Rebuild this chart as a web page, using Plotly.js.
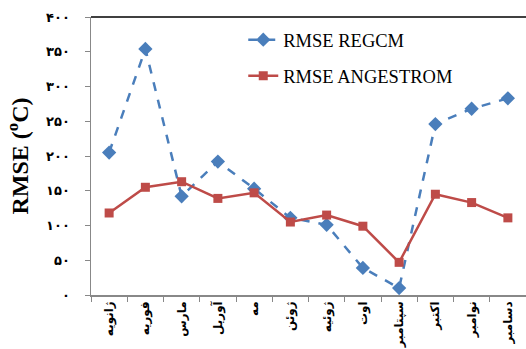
<!DOCTYPE html>
<html><head><meta charset="utf-8">
<script src="https://cdn.plot.ly/plotly-3.0.1.min.js"></script>
<style>body{margin:0;background:#fff}#chart{width:526px;height:349px}</style>
</head><body><div id="chart"></div>
<script>
const months = ["ژانویه","فوریه","مارس","آوریل","مه","ژوئن","ژوئیه","اوت","سپتامبر","اکتبر","نوامبر","دسامبر"];
const rmseRegcm = [205, 354, 142, 192, 153, 111, 101, 39, 10, 246, 268, 283];
const rmseAngstrom = [118, 155, 163, 139, 147, 105, 115, 99, 47, 145, 133, 111];
const yTickVals = [0, 50, 100, 150, 200, 250, 300, 350, 400];
const yTickText = ["۰","۵۰","۱۰۰","۱۵۰","۲۰۰","۲۵۰","۳۰۰","۳۵۰","۴۰۰"];

const traces = [
  {x: months, y: rmseRegcm, name: "RMSE REGCM", type: "scatter", mode: "lines+markers",
   legendgroup: "a",
   line: {color: "#4A7EBB", width: 2.5, dash: "dash"},
   marker: {symbol: "diamond", size: 11, color: "#4A7EBB"}},
  {x: months, y: rmseAngstrom, name: "RMSE ANGESTROM", type: "scatter", mode: "lines+markers",
   legendgroup: "b",
   line: {color: "#BE4B48", width: 2.5},
   marker: {symbol: "square", size: 9, color: "#BE4B48"}}
];

const layout = {
  width: 526, height: 349,
  margin: {l: 91, r: 0, t: 17, b: 54},
  paper_bgcolor: "#fff", plot_bgcolor: "#fff",
  showlegend: true,
  legend: {x: 0.35, y: 0.985, xanchor: "left", yanchor: "top",
    font: {family: "Liberation Serif, Times New Roman, serif", size: 18.5, color: "#000"},
    traceorder: "grouped", tracegroupgap: 9, bgcolor: "rgba(0,0,0,0)"},
  xaxis: {type: "category", range: [-0.5, 11.5], tickangle: -90,
    showline: true, linecolor: "#888", linewidth: 1.5,
    ticks: "outside", ticklen: 5, tickcolor: "#888", tickson: "boundaries",
    showgrid: false, zeroline: false,
    tickfont: {family: "DejaVu Sans, sans-serif", size: 12, color: "#000", weight: "bold"}},
  yaxis: {range: [0, 400], tickvals: yTickVals, ticktext: yTickText,
    showline: true, linecolor: "#888", linewidth: 1.5,
    ticks: "outside", ticklen: 5, tickcolor: "#888", ticklabelstandoff: 12,
    showgrid: false, zeroline: false,
    tickfont: {family: "DejaVu Sans, sans-serif", size: 13, color: "#000", weight: "bold"},
    title: {text: "RMSE (<sup>o</sup>C)", standoff: 10,
      font: {family: "Liberation Serif, Times New Roman, serif", size: 24, color: "#000", weight: "bold"}}},
  shapes: [{type: "line", xref: "paper", yref: "paper", x0: 0, x1: 1, y0: 1, y1: 1,
    line: {color: "#000", width: 1.5}}]
};
Plotly.newPlot("chart", traces, layout, {displayModeBar: false, staticPlot: true});
</script></body></html>
